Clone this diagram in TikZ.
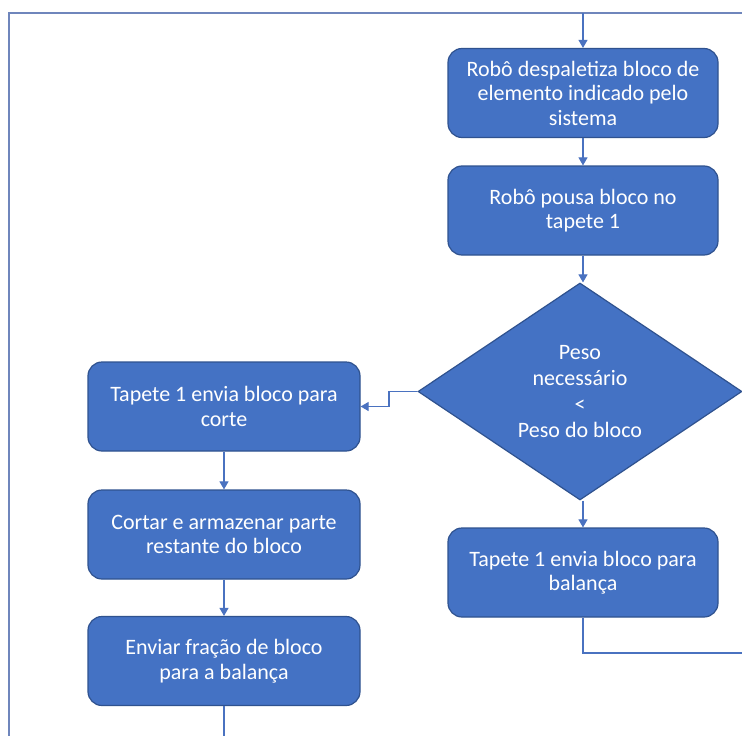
\documentclass[tikz,border=0pt]{standalone}
\usepackage{fontspec}
\setmainfont{Carlito}
\usetikzlibrary{shapes.geometric,arrows.meta}
\definecolor{boxfill}{HTML}{4472C4}
\definecolor{boxline}{HTML}{2F528F}
\definecolor{wire}{HTML}{4A72C0}
\definecolor{frame}{HTML}{6F86BC}
\tikzset{
  stepbox/.style={draw=boxline, line width=1.2pt, fill=boxfill, rounded corners=14pt,
    text=white, align=center, font=\fontsize{22}{24.5}\selectfont, inner sep=0pt,
    minimum width=270pt, minimum height=89pt},
  decision/.style={draw=boxline, line width=1.2pt, fill=boxfill, diamond, inner sep=0pt,
    text=white, align=center, font=\fontsize{22}{26}\selectfont,
    minimum width=324pt, minimum height=217pt},
  flow/.style={draw=wire, line width=1.1pt, -{Triangle[width=9pt,length=8pt]}},
  wireline/.style={draw=wire, line width=1.1pt},
  frameline/.style={draw=frame, line width=1.4pt}
}
\begin{document}
\begin{tikzpicture}[x=1pt,y=-1pt]
  \useasboundingbox[fill=white] (0,0) rectangle (742,736);

  % outer frame lines
  \coordinate (fTL) at (9,13);
  \coordinate (fTR) at (742,13);
  \coordinate (fBL) at (9,736);
  \draw[frameline] (fBL) -- (fTL) -- (fTR);

  % right column
  \node[stepbox] (despal) at (583,93) {Robô despaletiza bloco de\\elemento indicado pelo\\sistema};
  \node[stepbox] (pousa) at (583,210.5) {Robô pousa bloco no\\tapete 1};
  \node[decision] (peso) at (580,391.5) {Peso\\necessário\\<\\Peso do bloco};
  \node[stepbox] (balanca) at (583,572.5) {Tapete 1 envia bloco para\\balança};

  % left column
  \node[stepbox, minimum width=272pt] (corte) at (224,406.5) {Tapete 1 envia bloco para\\corte};
  \node[stepbox, minimum width=272pt] (cortar) at (224,534.5) {Cortar e armazenar parte\\restante do bloco};
  \node[stepbox, minimum width=272pt] (fracao) at (224,661) {Enviar fração de bloco\\para a balança};

  % connectors
  \coordinate (topin) at (583,13);
  \draw[flow] (topin) -- (despal.north);
  \draw[flow] (despal.south) -- (pousa.north);
  \draw[flow] (pousa.south) -- (peso.north -| pousa.south);
  \draw[flow] (peso.south -| balanca.north) -- (balanca.north);

  \coordinate (bendA) at (389,391.5);
  \coordinate (bendB) at (389,406.5);
  \draw[flow] (peso.west) -- (bendA) -- (bendB) -- (corte.east);

  \draw[flow] (corte.south) -- (cortar.north);
  \draw[flow] (cortar.south) -- (fracao.north);

  \coordinate (fracEnd) at (224,736);
  \draw[wireline] (fracao.south) -- (fracEnd);

  \coordinate (balBend) at (583,653);
  \coordinate (balEnd) at (742,653);
  \draw[wireline] (balanca.south) -- (balBend) -- (balEnd);
\end{tikzpicture}
\end{document}
